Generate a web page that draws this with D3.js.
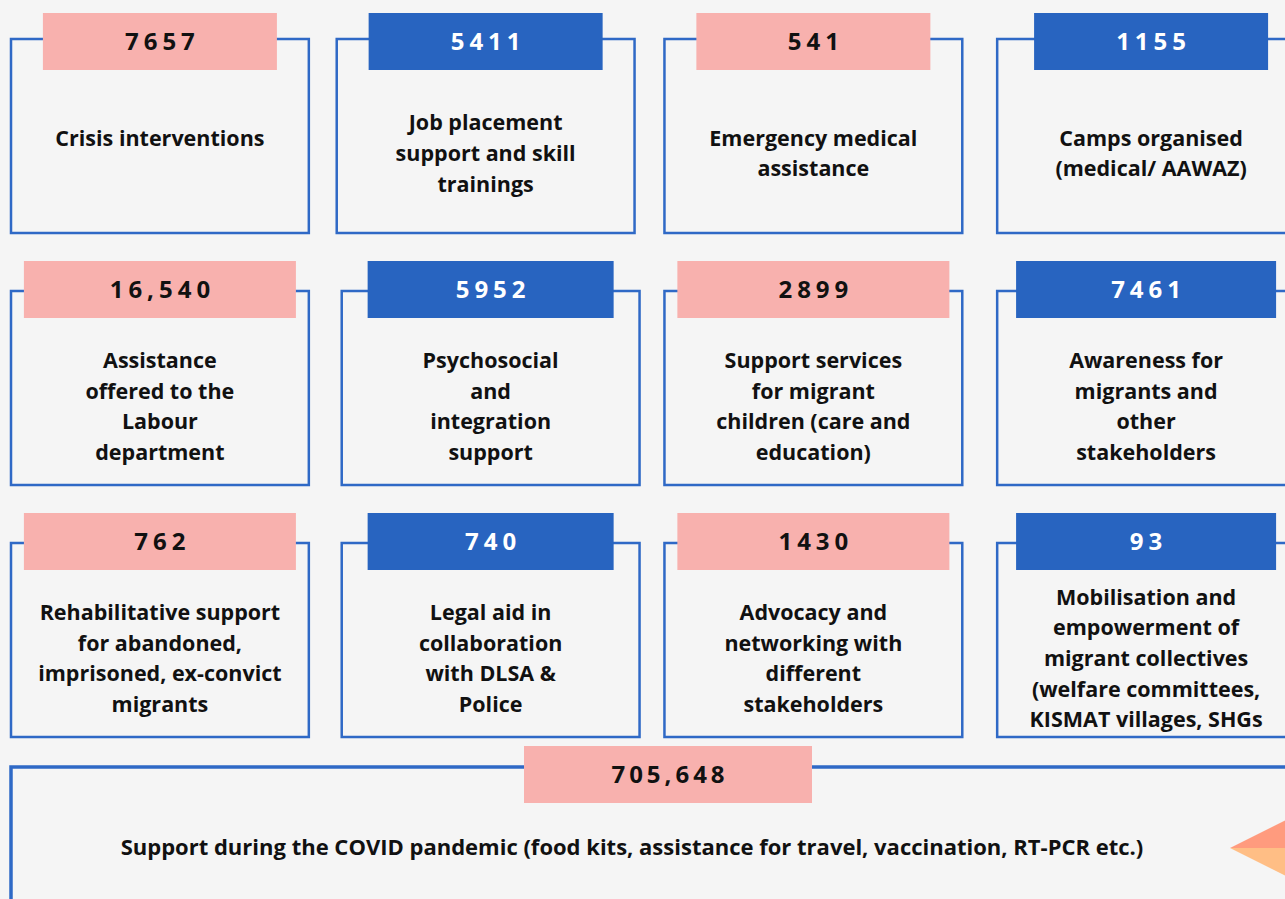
<!DOCTYPE html>
<html>
<head>
<meta charset="utf-8">
<script src="https://cdn.jsdelivr.net/npm/d3@7"></script>
<style>
  body { margin: 0; background: #f5f5f5; overflow: hidden; }
  text { font-family: "Open Sans", "DejaVu Sans", sans-serif; }
</style>
</head>
<body>
<div id="chart"></div>
<script>
// activity categories, one per box (line breaks as in the original)
const categories = [
  "Crisis interventions|",
  "Job placement|support and skill|trainings",
  "Emergency medical|assistance",
  "Camps organised|(medical/ AAWAZ)",
  "Assistance|offered to the|Labour|department",
  "Psychosocial|and|integration|support",
  "Support services|for migrant|children (care and|education)",
  "Awareness for|migrants and|other|stakeholders",
  "Rehabilitative support|for abandoned,|imprisoned, ex-convict|migrants",
  "Legal aid in|collaboration|with DLSA &|Police",
  "Advocacy and|networking with|different|stakeholders",
  "Mobilisation and|empowerment of|migrant collectives|(welfare committees,|KISMAT villages, SHGs"
];
const values = [7657, 5411, 541, 1155, 16540, 5952, 2899, 7461, 762, 740, 1430, 93];

const covidCategory = "Support during the COVID pandemic (food kits, assistance for travel, vaccination, RT-PCR etc.)";
const covidValue = 705648;

const width = 1285, height = 899;
const pink = "#f8b1ae", blue = "#2864c0", outline = "#2f69c6";

const fmt = (v) => v >= 10000 ? d3.format(",")(v) : String(v);

const data = values.map((v, i) => ({
  value: v,
  lines: categories[i].split("|"),
  col: i % 4,
  row: Math.floor(i / 4)
}));

const svg = d3.select("#chart").append("svg")
  .attr("width", width)
  .attr("height", height);

svg.append("rect").attr("width", width).attr("height", height).attr("fill", "#f5f5f5");

// columns and rows
const x = d3.scaleBand().domain(d3.range(4)).range([11, 1295]).paddingInner(0.094);
const y = d3.scaleLinear().domain([0, 1]).range([39, 291]);
const boxH = 194;
// tab widths per row (first row tabs are narrower)
const tabW = [[234, 234, 234, 234], [272, 246, 272, 260], [272, 246, 272, 260]];
const tabH = 57;
const xShift = [[0, -3, -4, 0], [0, 2, -4, 0], [0, 2, -4, 0]];
const tabShift = [[0, 0, 0, 5], [0, 0, 0, 0], [0, 0, 0, 0]];
const textShift = [0, 3, 3];

const g = svg.selectAll("g.box")
  .data(data)
  .join("g")
  .attr("class", "box")
  .attr("transform", d => `translate(${x(d.col) + xShift[d.row][d.col]},${y(d.row)})`);

g.append("rect")
  .attr("width", x.bandwidth())
  .attr("height", boxH)
  .attr("fill", "none")
  .attr("stroke", outline)
  .attr("stroke-width", 2.5);

g.append("rect")
  .attr("x", d => (x.bandwidth() - tabW[d.row][d.col]) / 2 + tabShift[d.row][d.col])
  .attr("y", d => d.row === 0 ? -26 : -30)
  .attr("width", d => tabW[d.row][d.col])
  .attr("height", tabH)
  .attr("fill", d => d.col % 2 === 0 ? pink : blue);

g.append("text")
  .attr("x", d => x.bandwidth() / 2 + tabShift[d.row][d.col] + 2.5)
  .attr("y", d => (d.row === 0 ? -26 : -30) + tabH / 2)
  .attr("dy", "0.36em")
  .attr("text-anchor", "middle")
  .attr("font-size", 24)
  .attr("font-weight", 700)
  .attr("letter-spacing", 5)
  .attr("fill", d => d.col % 2 === 0 ? "#111" : "#fff")
  .text(d => fmt(d.value));

const lineH = 30.7;
g.each(function (d) {
  const top = (d.row === 0 ? -26 : -30) + tabH;
  const cy = (top + boxH) / 2 + 2 + textShift[d.row];
  const n = d.lines.length;
  d3.select(this).append("text")
    .attr("text-anchor", "middle")
    .attr("font-size", 21.5)
    .attr("font-weight", 700)
    .attr("fill", "#111")
    .selectAll("tspan")
    .data(d.lines)
    .join("tspan")
    .attr("x", x.bandwidth() / 2 + tabShift[d.row][d.col])
    .attr("y", (l, i) => cy + (i - (n - 1) / 2) * lineH)
    .attr("dy", "0.35em")
    .text(l => l);
});

// big COVID box at the bottom
const bigTop = 767;
const big = svg.append("g");
big.append("rect")
  .attr("x", 11).attr("y", bigTop)
  .attr("width", width).attr("height", 200)
  .attr("fill", "none")
  .attr("stroke", outline)
  .attr("stroke-width", 3.5);

big.append("rect")
  .attr("x", 524).attr("y", bigTop - 21)
  .attr("width", 288).attr("height", 57)
  .attr("fill", pink);

big.append("text")
  .attr("x", 670).attr("y", bigTop - 21 + 28.5)
  .attr("dy", "0.36em")
  .attr("text-anchor", "middle")
  .attr("font-size", 24)
  .attr("font-weight", 700)
  .attr("letter-spacing", 4)
  .attr("fill", "#111")
  .text(fmt(covidValue));

big.append("text")
  .attr("x", 632).attr("y", 847)
  .attr("dy", "0.35em")
  .attr("text-anchor", "middle")
  .attr("font-size", 22)
  .attr("font-weight", 700)
  .attr("fill", "#111")
  .text(covidCategory);

// decorative arrow tip on the right
const tip = [1230, 848];
big.append("path")
  .attr("d", d3.line()([tip, [1300, 813], [1300, 848]]))
  .attr("fill", "#ff9b7e");
big.append("path")
  .attr("d", d3.line()([tip, [1300, 848], [1300, 883]]))
  .attr("fill", "#ffbe85");
</script>
</body>
</html>
